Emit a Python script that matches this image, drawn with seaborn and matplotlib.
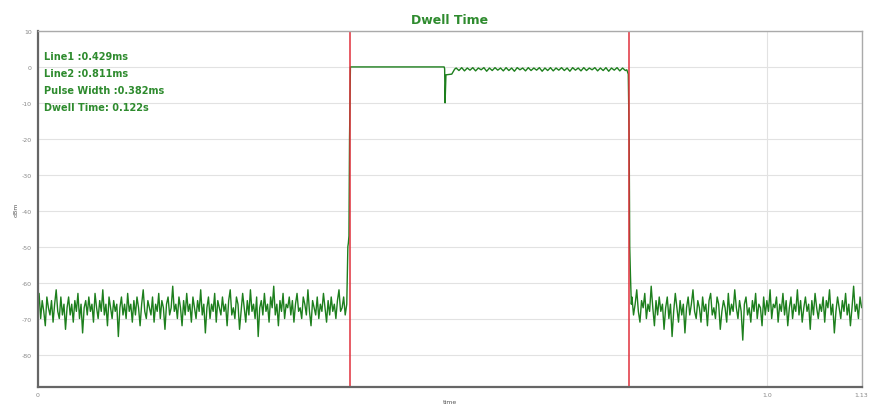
import numpy as np
import pandas as pd
import matplotlib
matplotlib.use("Agg")
import matplotlib.pyplot as plt
import seaborn as sns

# noise floor before the pulse (dBm), sampled evenly over 0 .. 0.424 ms
noise_left = [-66, -63, -70, -65, -68, -72, -64, -67, -69, -65, -71, -66, -62, -68, -70, -64,
              -69, -66, -73, -67, -64, -69, -66, -71, -65, -68, -63, -70, -66, -74, -67, -65,
              -69, -64, -68, -66, -71, -63, -67, -70, -65, -68, -62, -69, -66, -72, -64, -67,
              -70, -65, -68, -66, -75, -67, -64, -69, -66, -70, -63, -68, -66, -71, -65, -69,
              -64, -67, -72, -66, -62, -68, -70, -65, -67, -69, -64, -71, -66, -68, -63, -70,
              -65, -67, -73, -66, -64, -69, -67, -61, -68, -66, -70, -64, -67, -72, -65, -69,
              -63, -68, -66, -71, -64, -67, -70, -65, -68, -62, -69, -66, -74, -67, -64, -70,
              -66, -68, -63, -71, -65, -67, -69, -64, -68, -66, -72, -65, -62, -69, -67, -70,
              -64, -66, -73, -68, -63, -67, -71, -65, -69, -62, -68, -66, -70, -64, -75, -67,
              -65, -69, -63, -68, -66, -71, -64, -67, -61, -69, -66, -72, -65, -68, -63, -70,
              -66, -67, -64, -69, -65, -71, -66, -63, -68, -67, -70, -64, -66, -69, -62, -68,
              -72, -65, -67, -69, -64, -70, -66, -68, -63, -67, -71, -65, -69, -64, -68, -66,
              -70, -65, -62, -68, -67, -64, -69, -66]

# rising edge + flat top + dip after the first section
edge1_t = [0.4255, 0.4262, 0.4270, 0.4278, 0.4290, 0.5575, 0.5582, 0.5588, 0.5600, 0.5680, 0.5720]
edge1_v = [-50, -49, -47, -20, 0, 0, -0.5, -10, -2.2, -2.0, -0.6]

# ripple on the pulse top, 0.574 .. 0.806 ms
ripple = [-0.3, -1.0, -0.2, -1.1, -0.3, -0.9, -0.2, -1.1, -0.3, -0.8, -0.2, -1.2, -0.3, -1.0,
          -0.2, -0.9, -0.3, -1.1, -0.2, -1.0, -0.3, -1.2, -0.2, -0.8, -0.3, -1.1, -0.2, -1.0,
          -0.3, -0.9, -0.2, -1.2, -0.3, -1.0, -0.2, -1.1, -0.3, -0.9, -0.2, -1.0, -0.3, -1.2,
          -0.2, -0.9, -0.3, -1.1, -0.2, -1.0, -0.3, -0.8, -0.2, -1.1, -0.3, -1.0, -0.2, -1.2,
          -0.3, -0.9, -0.2, -1.1, -0.3, -1.0]

# falling edge
edge2_t = [0.8080, 0.8100, 0.8112, 0.8120, 0.8130, 0.8142]
edge2_v = [-0.8, -2.0, -20, -50, -58, -66]

# noise floor after the pulse, 0.815 .. 1.13 ms
noise_right = [-64, -69, -66, -62, -68, -71, -65, -67, -63, -70, -66, -68, -61, -67, -72, -65,
               -69, -64, -68, -66, -73, -67, -64, -70, -66, -75, -68, -63, -67, -71, -65, -69,
               -66, -74, -67, -64, -69, -66, -62, -68, -70, -65, -67, -71, -64, -68, -66, -72,
               -65, -63, -69, -67, -70, -64, -66, -73, -68, -65, -67, -71, -63, -69, -66, -68,
               -62, -67, -70, -65, -68, -76, -66, -64, -69, -67, -71, -65, -68, -63, -70, -66,
               -67, -72, -64, -69, -65, -68, -62, -70, -66, -67, -64, -71, -66, -68, -63, -69,
               -65, -72, -67, -64, -70, -66, -68, -62, -69, -65, -71, -67, -64, -68, -66, -73,
               -65, -69, -63, -67, -70, -66, -68, -64, -71, -65, -67, -62, -69, -66, -74, -68,
               -64, -67, -70, -65, -68, -63, -69, -66, -72, -67, -61, -68, -66, -70, -64, -67]

line1 = 0.429
line2 = 0.811
stats = ["Line1 :0.429ms", "Line2 :0.811ms", "Pulse Width :0.382ms", "Dwell Time: 0.122s"]
yticks = [10, 0, -10, -20, -30, -40, -50, -60, -70, -80]
xticks = [0, 1.0, 1.13]
xtick_labels = ["0", "1.0", "1.13"]

t = np.concatenate([
    np.linspace(0, 0.424, len(noise_left)),
    edge1_t,
    np.linspace(0.574, 0.806, len(ripple)),
    edge2_t,
    np.linspace(0.815, 1.13, len(noise_right)),
])
v = np.concatenate([noise_left, edge1_v, ripple, edge2_v, noise_right])
df = pd.DataFrame({"time": t, "dBm": v})

sns.set_style("white")
fig, ax = plt.subplots(figsize=(8.73, 4.10), dpi=100)
fig.subplots_adjust(left=0.043, right=0.987, top=0.922, bottom=0.054)

sns.lineplot(data=df, x="time", y="dBm", ax=ax, color="#1d7f1d", linewidth=1.0, sort=False)

ax.axvline(line1, color="#e0303c", linewidth=1.1)
ax.axvline(line2, color="#e0303c", linewidth=1.1)

ax.set_xlim(0, 1.13)
ax.set_ylim(-89, 10)
ax.set_yticks(yticks)
ax.set_yticklabels([str(y) for y in yticks])
ax.set_xticks(xticks)
ax.set_xticklabels(xtick_labels)
ax.tick_params(labelsize=4.5, colors="#888888", length=2, pad=2)
ax.grid(True, color="#e2e2e2", linewidth=0.8)

for side in ["left", "bottom"]:
    ax.spines[side].set_color("#666666")
    ax.spines[side].set_linewidth(1.6)
for side in ["top", "right"]:
    ax.spines[side].set_color("#aaaaaa")
    ax.spines[side].set_linewidth(1.0)

ax.set_xlabel("time", fontsize=4.5, color="#555555", labelpad=1)
ax.set_ylabel("dBm", fontsize=4.5, color="#555555", labelpad=2)
ax.set_title("Dwell Time", fontsize=9, fontweight="bold", color="#2e8b2e", pad=6)

for i, s in enumerate(stats):
    ax.text(0.008, 0.93 - i * 0.048, s, transform=ax.transAxes, fontsize=7,
            fontweight="bold", color="#2e8b2e", va="center")

fig.savefig("out.png", dpi=100)
